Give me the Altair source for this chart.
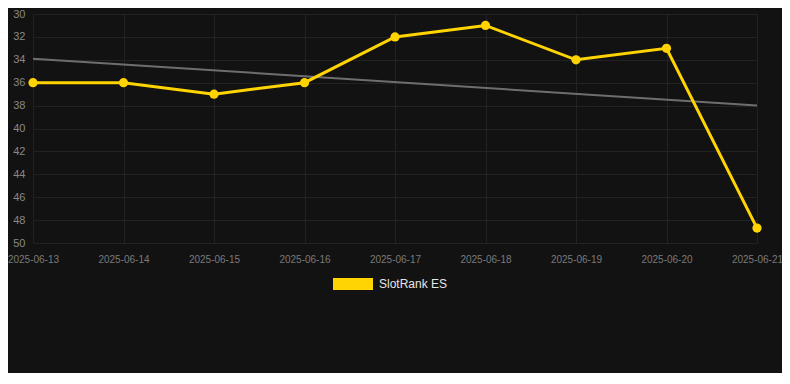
import altair as alt
import pandas as pd

dates = ["2025-06-13", "2025-06-14", "2025-06-15", "2025-06-16", "2025-06-17",
         "2025-06-18", "2025-06-19", "2025-06-20", "2025-06-21"]
ranks = [36, 36, 37, 36, 32, 31, 34, 33, 48.7]
series_name = "SlotRank ES"
trend_dates = ["2025-06-13", "2025-06-21"]
trend_values = [33.9, 38.0]
y_ticks = list(range(30, 51, 2))

df = pd.DataFrame({"date": dates, "rank": ranks, "series": series_name})
tdf = pd.DataFrame({"date": trend_dates, "rank": trend_values})

YELLOW = "#ffd400"

x_enc = alt.X(
    "date:O",
    sort=dates,
    scale=alt.Scale(type="point", padding=0, domain=dates),
    axis=alt.Axis(title=None, labelAngle=0, labelFontSize=10, labelColor="#7a7a7a",
                  labelFont="Liberation Sans", grid=True, gridColor="#222222",
                  domain=False, ticks=False, labelPadding=11),
)
y_enc = alt.Y(
    "rank:Q",
    scale=alt.Scale(domain=[30, 50], reverse=True, nice=False, zero=False),
    axis=alt.Axis(title=None, values=y_ticks, labelFontSize=11, labelColor="#888888",
                  labelFont="Liberation Sans", grid=True, gridColor="#222222",
                  domain=False, ticks=False, labelPadding=8),
)

trend = alt.Chart(tdf).mark_line(color="#6e6e6e", strokeWidth=2).encode(x=x_enc, y=y_enc)
line = alt.Chart(df).mark_line(color=YELLOW, strokeWidth=3).encode(x=x_enc, y=y_enc)
points = alt.Chart(df).mark_point(filled=True, size=85, opacity=1).encode(
    x=x_enc,
    y=y_enc,
    color=alt.Color(
        "series:N",
        scale=alt.Scale(domain=[series_name], range=[YELLOW]),
        legend=alt.Legend(
            title=None, orient="none", legendX=300, legendY=250, padding=0,
            symbolType="M-1,-0.3H1V0.3H-1Z", symbolSize=1600, symbolStrokeWidth=0,
            symbolOpacity=1, labelFontSize=12, labelColor="#e6e6e6",
            labelFont="Liberation Sans", labelOffset=6,
        ),
    ),
)

chart = (
    alt.layer(trend, line, points)
    .properties(
        width=724, height=229,
        background="#121212",
        padding={"left": 25, "top": 6, "right": 25, "bottom": 130},
        autosize=alt.AutoSizeParams(type="none"),
    )
    .configure_view(stroke=None)
)

chart.save("out.html", embed_options={"renderer": "svg", "actions": False})
